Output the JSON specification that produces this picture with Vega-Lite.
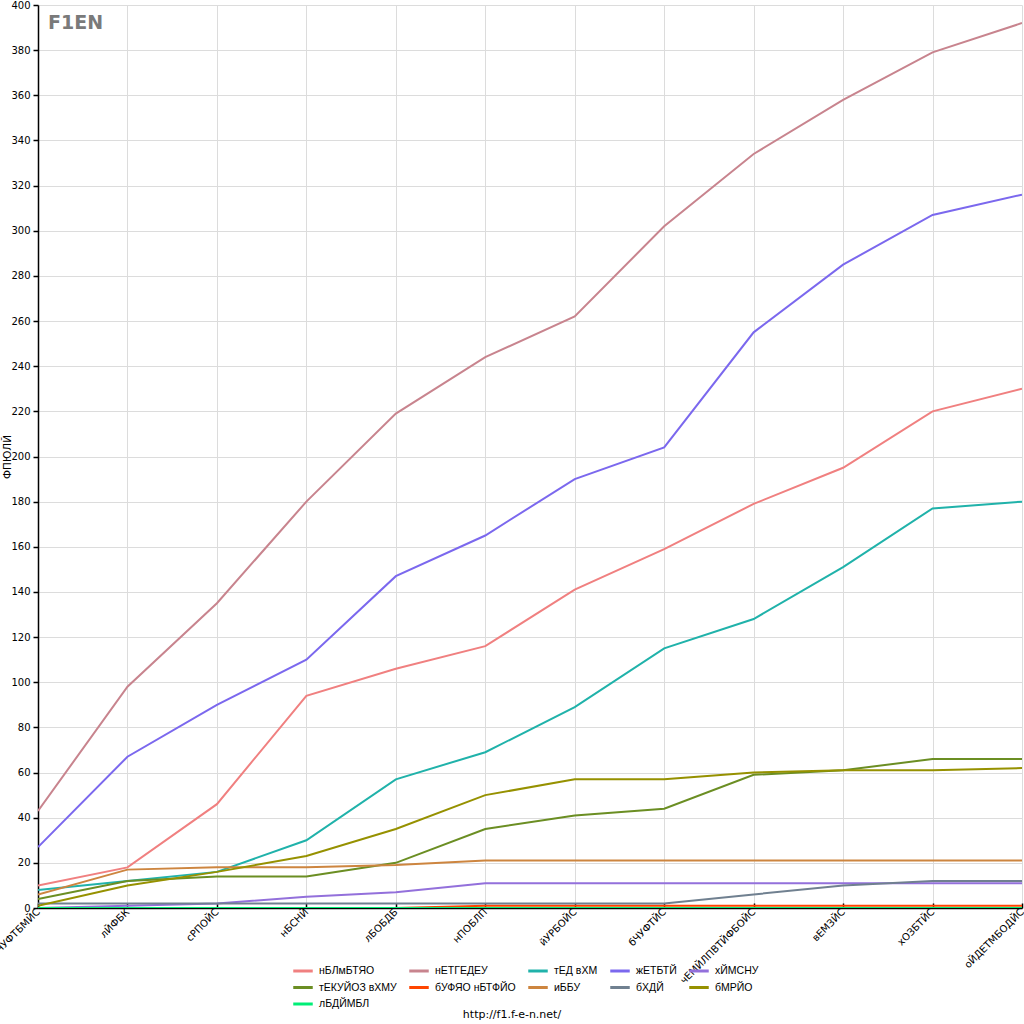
{
  "$schema": "https://vega.github.io/schema/vega-lite/v6.json",
  "width": 984,
  "height": 903,
  "autosize": {"type": "none"},
  "padding": {"left": 38, "top": 5, "right": 2, "bottom": 116},
  "background": "white",
  "title": {
    "text": "http://f1.f-e-n.net/",
    "orient": "bottom",
    "anchor": "middle",
    "frame": "group",
    "dx": -18,
    "offset": -1,
    "fontSize": 11,
    "fontWeight": "normal",
    "font": "DejaVu Sans",
    "color": "black"
  },
  "datasets": {
    "points": [
      {"race": "бЧУФТБМЙС", "team": "нБЛмБТЯО", "points": 10},
      {"race": "лЙФБК", "team": "нБЛмБТЯО", "points": 18},
      {"race": "сРПОЙС", "team": "нБЛмБТЯО", "points": 46},
      {"race": "нБСНЙ", "team": "нБЛмБТЯО", "points": 94},
      {"race": "лБОБДБ", "team": "нБЛмБТЯО", "points": 106},
      {"race": "нПОБЛП", "team": "нБЛмБТЯО", "points": 116},
      {"race": "йУРБОЙС", "team": "нБЛмБТЯО", "points": 141},
      {"race": "бЧУФТЙС", "team": "нБЛмБТЯО", "points": 159},
      {"race": "чЕМЙЛПВТЙФБОЙС", "team": "нБЛмБТЯО", "points": 179},
      {"race": "вЕМЗЙС", "team": "нБЛмБТЯО", "points": 195},
      {"race": "хОЗБТЙС", "team": "нБЛмБТЯО", "points": 220},
      {"race": "оЙДЕТМБОДЙС", "team": "нБЛмБТЯО", "points": 230},

      {"race": "бЧУФТБМЙС", "team": "нЕТГЕДЕУ", "points": 43},
      {"race": "лЙФБК", "team": "нЕТГЕДЕУ", "points": 98},
      {"race": "сРПОЙС", "team": "нЕТГЕДЕУ", "points": 135},
      {"race": "нБСНЙ", "team": "нЕТГЕДЕУ", "points": 180},
      {"race": "лБОБДБ", "team": "нЕТГЕДЕУ", "points": 219},
      {"race": "нПОБЛП", "team": "нЕТГЕДЕУ", "points": 244},
      {"race": "йУРБОЙС", "team": "нЕТГЕДЕУ", "points": 262},
      {"race": "бЧУФТЙС", "team": "нЕТГЕДЕУ", "points": 302},
      {"race": "чЕМЙЛПВТЙФБОЙС", "team": "нЕТГЕДЕУ", "points": 334},
      {"race": "вЕМЗЙС", "team": "нЕТГЕДЕУ", "points": 358},
      {"race": "хОЗБТЙС", "team": "нЕТГЕДЕУ", "points": 379},
      {"race": "оЙДЕТМБОДЙС", "team": "нЕТГЕДЕУ", "points": 392},

      {"race": "бЧУФТБМЙС", "team": "тЕД вХМ", "points": 8},
      {"race": "лЙФБК", "team": "тЕД вХМ", "points": 12},
      {"race": "сРПОЙС", "team": "тЕД вХМ", "points": 16},
      {"race": "нБСНЙ", "team": "тЕД вХМ", "points": 30},
      {"race": "лБОБДБ", "team": "тЕД вХМ", "points": 57},
      {"race": "нПОБЛП", "team": "тЕД вХМ", "points": 69},
      {"race": "йУРБОЙС", "team": "тЕД вХМ", "points": 89},
      {"race": "бЧУФТЙС", "team": "тЕД вХМ", "points": 115},
      {"race": "чЕМЙЛПВТЙФБОЙС", "team": "тЕД вХМ", "points": 128},
      {"race": "вЕМЗЙС", "team": "тЕД вХМ", "points": 151},
      {"race": "хОЗБТЙС", "team": "тЕД вХМ", "points": 177},
      {"race": "оЙДЕТМБОДЙС", "team": "тЕД вХМ", "points": 180},

      {"race": "бЧУФТБМЙС", "team": "жЕТБТЙ", "points": 27},
      {"race": "лЙФБК", "team": "жЕТБТЙ", "points": 67},
      {"race": "сРПОЙС", "team": "жЕТБТЙ", "points": 90},
      {"race": "нБСНЙ", "team": "жЕТБТЙ", "points": 110},
      {"race": "лБОБДБ", "team": "жЕТБТЙ", "points": 147},
      {"race": "нПОБЛП", "team": "жЕТБТЙ", "points": 165},
      {"race": "йУРБОЙС", "team": "жЕТБТЙ", "points": 190},
      {"race": "бЧУФТЙС", "team": "жЕТБТЙ", "points": 204},
      {"race": "чЕМЙЛПВТЙФБОЙС", "team": "жЕТБТЙ", "points": 255},
      {"race": "вЕМЗЙС", "team": "жЕТБТЙ", "points": 285},
      {"race": "хОЗБТЙС", "team": "жЕТБТЙ", "points": 307},
      {"race": "оЙДЕТМБОДЙС", "team": "жЕТБТЙ", "points": 316},

      {"race": "бЧУФТБМЙС", "team": "хЙМСНУ", "points": 0},
      {"race": "лЙФБК", "team": "хЙМСНУ", "points": 1},
      {"race": "сРПОЙС", "team": "хЙМСНУ", "points": 2},
      {"race": "нБСНЙ", "team": "хЙМСНУ", "points": 5},
      {"race": "лБОБДБ", "team": "хЙМСНУ", "points": 7},
      {"race": "нПОБЛП", "team": "хЙМСНУ", "points": 11},
      {"race": "йУРБОЙС", "team": "хЙМСНУ", "points": 11},
      {"race": "бЧУФТЙС", "team": "хЙМСНУ", "points": 11},
      {"race": "чЕМЙЛПВТЙФБОЙС", "team": "хЙМСНУ", "points": 11},
      {"race": "вЕМЗЙС", "team": "хЙМСНУ", "points": 11},
      {"race": "хОЗБТЙС", "team": "хЙМСНУ", "points": 11},
      {"race": "оЙДЕТМБОДЙС", "team": "хЙМСНУ", "points": 11},

      {"race": "бЧУФТБМЙС", "team": "тЕКУЙОЗ вХМУ", "points": 4},
      {"race": "лЙФБК", "team": "тЕКУЙОЗ вХМУ", "points": 12},
      {"race": "сРПОЙС", "team": "тЕКУЙОЗ вХМУ", "points": 14},
      {"race": "нБСНЙ", "team": "тЕКУЙОЗ вХМУ", "points": 14},
      {"race": "лБОБДБ", "team": "тЕКУЙОЗ вХМУ", "points": 20},
      {"race": "нПОБЛП", "team": "тЕКУЙОЗ вХМУ", "points": 35},
      {"race": "йУРБОЙС", "team": "тЕКУЙОЗ вХМУ", "points": 41},
      {"race": "бЧУФТЙС", "team": "тЕКУЙОЗ вХМУ", "points": 44},
      {"race": "чЕМЙЛПВТЙФБОЙС", "team": "тЕКУЙОЗ вХМУ", "points": 59},
      {"race": "вЕМЗЙС", "team": "тЕКУЙОЗ вХМУ", "points": 61},
      {"race": "хОЗБТЙС", "team": "тЕКУЙОЗ вХМУ", "points": 66},
      {"race": "оЙДЕТМБОДЙС", "team": "тЕКУЙОЗ вХМУ", "points": 66},

      {"race": "бЧУФТБМЙС", "team": "бУФЯО нБТФЙО", "points": 0},
      {"race": "лЙФБК", "team": "бУФЯО нБТФЙО", "points": 0},
      {"race": "сРПОЙС", "team": "бУФЯО нБТФЙО", "points": 0},
      {"race": "нБСНЙ", "team": "бУФЯО нБТФЙО", "points": 0},
      {"race": "лБОБДБ", "team": "бУФЯО нБТФЙО", "points": 0},
      {"race": "нПОБЛП", "team": "бУФЯО нБТФЙО", "points": 1},
      {"race": "йУРБОЙС", "team": "бУФЯО нБТФЙО", "points": 1},
      {"race": "бЧУФТЙС", "team": "бУФЯО нБТФЙО", "points": 1},
      {"race": "чЕМЙЛПВТЙФБОЙС", "team": "бУФЯО нБТФЙО", "points": 1},
      {"race": "вЕМЗЙС", "team": "бУФЯО нБТФЙО", "points": 1},
      {"race": "хОЗБТЙС", "team": "бУФЯО нБТФЙО", "points": 1},
      {"race": "оЙДЕТМБОДЙС", "team": "бУФЯО нБТФЙО", "points": 1},

      {"race": "бЧУФТБМЙС", "team": "иББУ", "points": 6},
      {"race": "лЙФБК", "team": "иББУ", "points": 17},
      {"race": "сРПОЙС", "team": "иББУ", "points": 18},
      {"race": "нБСНЙ", "team": "иББУ", "points": 18},
      {"race": "лБОБДБ", "team": "иББУ", "points": 19},
      {"race": "нПОБЛП", "team": "иББУ", "points": 21},
      {"race": "йУРБОЙС", "team": "иББУ", "points": 21},
      {"race": "бЧУФТЙС", "team": "иББУ", "points": 21},
      {"race": "чЕМЙЛПВТЙФБОЙС", "team": "иББУ", "points": 21},
      {"race": "вЕМЗЙС", "team": "иББУ", "points": 21},
      {"race": "хОЗБТЙС", "team": "иББУ", "points": 21},
      {"race": "оЙДЕТМБОДЙС", "team": "иББУ", "points": 21},

      {"race": "бЧУФТБМЙС", "team": "бХДЙ", "points": 2},
      {"race": "лЙФБК", "team": "бХДЙ", "points": 2},
      {"race": "сРПОЙС", "team": "бХДЙ", "points": 2},
      {"race": "нБСНЙ", "team": "бХДЙ", "points": 2},
      {"race": "лБОБДБ", "team": "бХДЙ", "points": 2},
      {"race": "нПОБЛП", "team": "бХДЙ", "points": 2},
      {"race": "йУРБОЙС", "team": "бХДЙ", "points": 2},
      {"race": "бЧУФТЙС", "team": "бХДЙ", "points": 2},
      {"race": "чЕМЙЛПВТЙФБОЙС", "team": "бХДЙ", "points": 6},
      {"race": "вЕМЗЙС", "team": "бХДЙ", "points": 10},
      {"race": "хОЗБТЙС", "team": "бХДЙ", "points": 12},
      {"race": "оЙДЕТМБОДЙС", "team": "бХДЙ", "points": 12},

      {"race": "бЧУФТБМЙС", "team": "бМРЙО", "points": 1},
      {"race": "лЙФБК", "team": "бМРЙО", "points": 10},
      {"race": "сРПОЙС", "team": "бМРЙО", "points": 16},
      {"race": "нБСНЙ", "team": "бМРЙО", "points": 23},
      {"race": "лБОБДБ", "team": "бМРЙО", "points": 35},
      {"race": "нПОБЛП", "team": "бМРЙО", "points": 50},
      {"race": "йУРБОЙС", "team": "бМРЙО", "points": 57},
      {"race": "бЧУФТЙС", "team": "бМРЙО", "points": 57},
      {"race": "чЕМЙЛПВТЙФБОЙС", "team": "бМРЙО", "points": 60},
      {"race": "вЕМЗЙС", "team": "бМРЙО", "points": 61},
      {"race": "хОЗБТЙС", "team": "бМРЙО", "points": 61},
      {"race": "оЙДЕТМБОДЙС", "team": "бМРЙО", "points": 62},

      {"race": "бЧУФТБМЙС", "team": "лБДЙМБЛ", "points": 0},
      {"race": "лЙФБК", "team": "лБДЙМБЛ", "points": 0},
      {"race": "сРПОЙС", "team": "лБДЙМБЛ", "points": 0},
      {"race": "нБСНЙ", "team": "лБДЙМБЛ", "points": 0},
      {"race": "лБОБДБ", "team": "лБДЙМБЛ", "points": 0},
      {"race": "нПОБЛП", "team": "лБДЙМБЛ", "points": 0},
      {"race": "йУРБОЙС", "team": "лБДЙМБЛ", "points": 0},
      {"race": "бЧУФТЙС", "team": "лБДЙМБЛ", "points": 0},
      {"race": "чЕМЙЛПВТЙФБОЙС", "team": "лБДЙМБЛ", "points": 0},
      {"race": "вЕМЗЙС", "team": "лБДЙМБЛ", "points": 0},
      {"race": "хОЗБТЙС", "team": "лБДЙМБЛ", "points": 0},
      {"race": "оЙДЕТМБОДЙС", "team": "лБДЙМБЛ", "points": 0}
    ],
    "logo": [
      {"race": "бЧУФТБМЙС", "points": 392, "label": "F1EN"}
    ]
  },
  "layer": [
    {
      "data": {"name": "points"},
      "mark": {"type": "line", "strokeWidth": 2, "clip": true},
      "encoding": {
        "x": {
          "field": "race",
          "type": "ordinal",
          "sort": ["бЧУФТБМЙС", "лЙФБК", "сРПОЙС", "нБСНЙ", "лБОБДБ", "нПОБЛП", "йУРБОЙС", "бЧУФТЙС", "чЕМЙЛПВТЙФБОЙС", "вЕМЗЙС", "хОЗБТЙС", "оЙДЕТМБОДЙС"],
          "scale": {"type": "point", "padding": 0},
          "axis": {
            "title": null,
            "labelAngle": -45,
            "labelAlign": "right",
            "labelBaseline": "middle",
            "labelPadding": 7,
            "labelFontSize": 10,
            "tickSize": -5,
            "grid": true
          }
        },
        "y": {
          "field": "points",
          "type": "quantitative",
          "scale": {"domain": [0, 400], "nice": false},
          "axis": {
            "title": "ФПЮЛЙ",
            "values": [0, 10, 20, 30, 40, 50, 60, 70, 80, 90, 100, 110, 120, 130, 140, 150, 160, 170, 180, 190, 200, 210, 220, 230, 240, 250, 260, 270, 280, 290, 300, 310, 320, 330, 340, 350, 360, 370, 380, 390, 400],
            "labelExpr": "datum.value % 20 === 0 ? datum.label : ''",
            "gridOpacity": {"condition": {"test": "datum.value % 20 === 0", "value": 1}, "value": 0},
            "tickSize": {"condition": {"test": "datum.value % 20 === 0", "value": 5}, "value": 4},
            "labelPadding": 3,
            "labelFontSize": 10,
            "titleX": -26,
            "titleBaseline": "bottom",
            "titleFontSize": 10.5
          }
        },
        "color": {
          "field": "team",
          "type": "nominal",
          "scale": {
            "domain": ["нБЛмБТЯО", "нЕТГЕДЕУ", "тЕД вХМ", "жЕТБТЙ", "хЙМСНУ", "тЕКУЙОЗ вХМУ", "бУФЯО нБТФЙО", "иББУ", "бХДЙ", "бМРЙО", "лБДЙМБЛ"],
            "range": ["#f08080", "#c8848e", "#20b2aa", "#7b68ee", "#9370db", "#6b8e23", "#ff4500", "#cd853f", "#708090", "#969100", "#00ee76"]
          },
          "legend": {
            "title": null,
            "orient": "none",
            "legendX": 257,
            "legendY": 958,
            "direction": "horizontal",
            "columns": 5,
            "gridAlign": "each",
            "columnPadding": 6,
            "rowPadding": 2.5,
            "padding": 0,
            "symbolType": "M-1.5,0H1.5",
            "symbolSize": 169,
            "symbolStrokeWidth": 3,
            "symbolFillColor": "transparent",
            "labelOffset": 8,
            "labelFont": "Liberation Sans",
            "labelFontSize": 10.5,
            "labelLimit": 200
          }
        }
      }
    },
    {
      "data": {"name": "logo"},
      "mark": {"type": "text", "align": "left", "baseline": "middle", "dx": 10, "fontSize": 19, "fontWeight": "bold", "font": "DejaVu Sans", "color": "#7a7a7a"},
      "encoding": {
        "x": {
          "field": "race",
          "type": "ordinal",
          "sort": ["бЧУФТБМЙС", "лЙФБК", "сРПОЙС", "нБСНЙ", "лБОБДБ", "нПОБЛП", "йУРБОЙС", "бЧУФТЙС", "чЕМЙЛПВТЙФБОЙС", "вЕМЗЙС", "хОЗБТЙС", "оЙДЕТМБОДЙС"]
        },
        "y": {"field": "points", "type": "quantitative"},
        "text": {"field": "label"}
      }
    }
  ],
  "config": {
    "font": "DejaVu Sans",
    "view": {"stroke": null},
    "axis": {
      "labelFont": "DejaVu Sans",
      "labelFontSize": 11,
      "labelColor": "black",
      "titleFont": "DejaVu Sans",
      "titleFontSize": 11,
      "titleFontWeight": "normal",
      "titleColor": "black",
      "domainColor": "black",
      "domainWidth": 1.5,
      "tickColor": "black",
      "tickWidth": 1.5,
      "gridColor": "#dcdcdc",
      "gridWidth": 1
    },
    "legend": {
      "labelColor": "black"
    }
  }
}
